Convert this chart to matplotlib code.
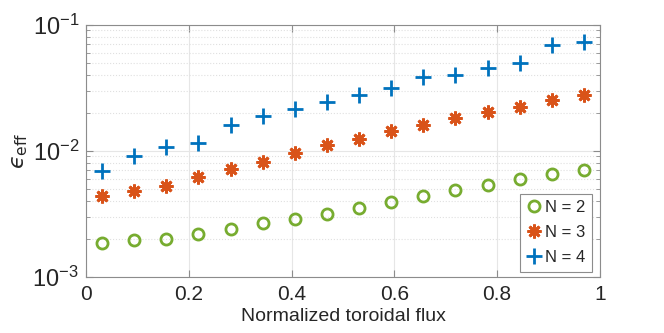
import matplotlib
matplotlib.use("Agg")
import matplotlib.pyplot as plt
from matplotlib.ticker import LogLocator, FixedLocator, NullFormatter

plt.rcParams['font.family'] = ['Liberation Sans', 'DejaVu Sans']
plt.rcParams['mathtext.fontset'] = 'custom'
plt.rcParams['mathtext.rm'] = 'Liberation Sans'
plt.rcParams['mathtext.it'] = 'Liberation Sans:italic'

# Data
flux = [0.03125, 0.09375, 0.15625, 0.21875, 0.28125, 0.34375, 0.40625, 0.46875,
        0.53125, 0.59375, 0.65625, 0.71875, 0.78125, 0.84375, 0.90625, 0.96875]
eps_n2 = [1.85e-3, 1.95e-3, 2.01e-3, 2.17e-3, 2.41e-3, 2.67e-3, 2.86e-3, 3.13e-3,
          3.50e-3, 3.92e-3, 4.35e-3, 4.89e-3, 5.39e-3, 5.94e-3, 6.48e-3, 7.09e-3]
eps_n3 = [4.38e-3, 4.75e-3, 5.26e-3, 6.19e-3, 7.13e-3, 8.11e-3, 9.50e-3, 1.10e-2,
          1.23e-2, 1.42e-2, 1.61e-2, 1.81e-2, 2.03e-2, 2.24e-2, 2.52e-2, 2.77e-2]
eps_n4 = [6.96e-3, 9.09e-3, 1.07e-2, 1.15e-2, 1.59e-2, 1.87e-2, 2.15e-2, 2.43e-2,
          2.76e-2, 3.17e-2, 3.81e-2, 3.95e-2, 4.52e-2, 4.97e-2, 6.84e-2, 7.30e-2]
labels = ['N = 2', 'N = 3', 'N = 4']

fig = plt.figure(figsize=(6.64, 3.33), dpi=100)
ax = fig.add_axes([0.1295, 0.169, 0.774, 0.757])

ax.plot(flux, eps_n2, linestyle='none', marker='o', markersize=8,
        markerfacecolor='none', markeredgecolor='#77AC30', markeredgewidth=2, label=labels[0])
ax.plot(flux, eps_n3, linestyle='none', marker=(8, 2, 0), markersize=10,
        markeredgecolor='#D95319', markeredgewidth=2, label=labels[1])
ax.plot(flux, eps_n4, linestyle='none', marker='+', markersize=11,
        markeredgecolor='#0072BD', markeredgewidth=2, label=labels[2])

ax.set_yscale('log')
ax.set_xlim(0, 1)
ax.set_ylim(1e-3, 1e-1)
ax.set_xticks([0, 0.2, 0.4, 0.6, 0.8, 1])
ax.set_xticklabels(['0', '0.2', '0.4', '0.6', '0.8', '1'])
ax.yaxis.set_major_locator(FixedLocator([1e-3, 1e-2, 1e-1]))
ax.set_yticklabels([r'$10^{-3}$', r'$10^{-2}$', r'$10^{-1}$'])
ax.yaxis.set_minor_locator(LogLocator(base=10, subs=range(2, 10)))
ax.yaxis.set_minor_formatter(NullFormatter())

ax.grid(True, which='major', color='#e6e6e6', linewidth=0.8)
ax.grid(True, which='minor', axis='y', color='#e0e0e0', linestyle=':', linewidth=0.8)
ax.set_axisbelow(True)

for s in ax.spines.values():
    s.set_color('#8c8c8c')
    s.set_linewidth(0.8)
ax.tick_params(which='both', direction='in', top=True, right=True,
               colors='#8c8c8c', labelcolor='#262626')
ax.tick_params(axis='x', labelsize=15, pad=6)
ax.tick_params(axis='y', labelsize=17, pad=5)
ax.tick_params(which='major', length=5)
ax.tick_params(which='minor', length=3)

ax.set_xlabel('Normalized toroidal flux', fontsize=14, color='#262626', labelpad=3)
ax.set_ylabel('$\u03f5_{\\mathrm{eff}}$', fontsize=16, color='#262626', labelpad=2,
              math_fontfamily='dejavusans')

leg = ax.legend(loc='lower right', fontsize=12, handlelength=0.9, handletextpad=0.2,
                borderpad=0.4, labelspacing=0.6, borderaxespad=0, fancybox=False,
                framealpha=1, bbox_to_anchor=(0.984, 0.019))
leg.get_frame().set_edgecolor('#8c8c8c')
leg.get_frame().set_linewidth(0.8)
for t in leg.get_texts():
    t.set_color('#262626')

fig.savefig('out.png', dpi=100)
